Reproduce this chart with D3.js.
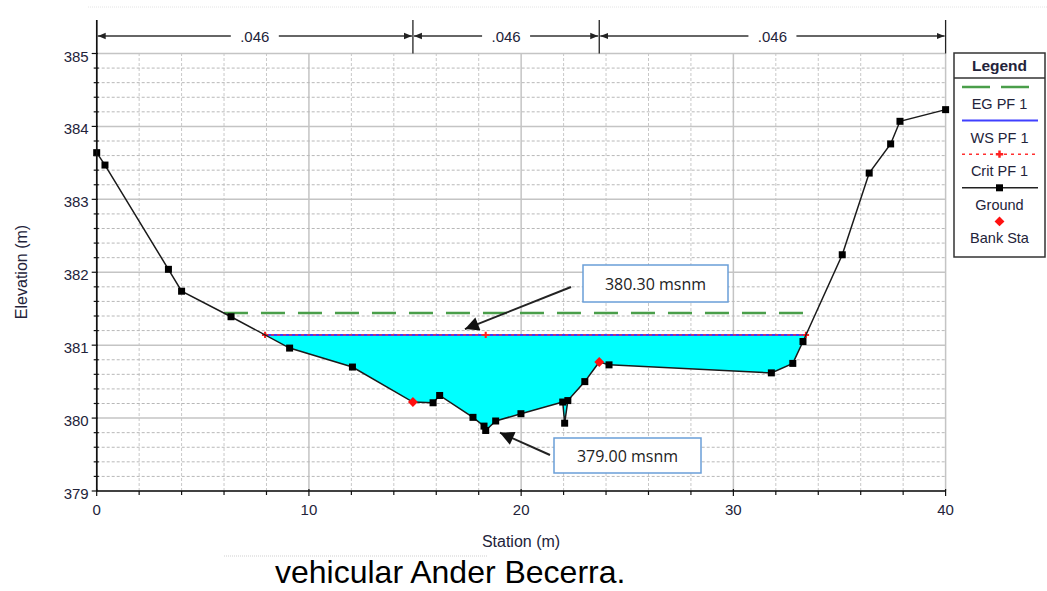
<!DOCTYPE html>
<meta charset="utf-8" />
<style>
  body { margin: 0; background: #fff; }
  svg { display: block; }
  .tick-label { font-family: "Liberation Sans", Arial, sans-serif; font-size: 15px; fill: #23233a; }
  .axis-title { font-family: "Liberation Sans", Arial, sans-serif; font-size: 16px; fill: #23233a; }
  .legend text { font-family: "Liberation Sans", Arial, sans-serif; font-size: 14.5px; fill: #23233a; }
  .note text { font-family: "Open Sans", sans-serif; font-size: 16px; fill: #222; }
</style>
<svg width="1047" height="591"></svg>
<script src="https://cdn.jsdelivr.net/npm/d3@7"></script>
<script>
  // ground profile
  var stations = [0, 0.39, 3.38, 4.0, 6.33, 9.09, 12.05, 14.9, 15.85, 16.16, 17.73, 18.25, 18.33, 18.8,
    19.99, 21.96, 22.05, 22.2, 23.0, 23.68, 24.14, 31.79, 32.8, 33.28, 35.13, 36.4, 37.41, 37.85, 40.0];
  var elevations = [383.64, 383.47, 382.04, 381.74, 381.39, 380.96, 380.7, 380.22, 380.21, 380.31, 380.01,
    379.89, 379.83, 379.96, 380.06, 380.22, 379.93, 380.24, 380.5, 380.77, 380.73, 380.62, 380.75, 381.05,
    382.24, 383.36, 383.76, 384.07, 384.23];
  var bankSta = [14.9, 23.68];
  var nBreaks = [0, 14.9, 23.68, 40];
  var nValues = [".046", ".046", ".046"];
  var wsElev = 381.14, critElev = 381.14, egElev = 381.44;
  var xTicks = [0, 10, 20, 30, 40];
  var yTicks = [379, 380, 381, 382, 383, 384, 385];
  var legendItems = ["EG PF 1", "WS PF 1", "Crit PF 1", "Ground", "Bank Sta"];
  var notes = [
    { text: "380.30 msnm", tip: [17.35, 381.22] },
    { text: "379.00 msnm", tip: [19.0, 379.8] }
  ];

  var svg = d3.select("svg");
  var x = d3.scaleLinear().domain([0, 40]).range([96.7, 945.6]);
  var y = d3.scaleLinear().domain([379, 385]).range([491, 53.5]);

  var ground = stations.map(function(s, i) { return { s: s, e: elevations[i] }; });

  // where a level crosses the ground on each side
  function crossings(level) {
    var out = [];
    for (var i = 0; i < ground.length - 1; i++) {
      var a = ground[i], b = ground[i + 1];
      if ((a.e - level) * (b.e - level) < 0) {
        out.push(a.s + (level - a.e) / (b.e - a.e) * (b.s - a.s));
      }
    }
    return [out[0], out[out.length - 1]];
  }

  var defs = svg.append("defs");
  defs.append("marker").attr("id", "arr").attr("viewBox", "0 0 10 10")
    .attr("refX", 10).attr("refY", 5).attr("markerWidth", 8).attr("markerHeight", 8)
    .attr("markerUnits", "userSpaceOnUse").attr("orient", "auto")
    .append("path").attr("d", "M0,1L10,5L0,9Z").attr("fill", "#222");
  defs.append("marker").attr("id", "arrBig").attr("viewBox", "0 0 10 10")
    .attr("refX", 10).attr("refY", 5).attr("markerWidth", 16).attr("markerHeight", 14)
    .attr("markerUnits", "userSpaceOnUse").attr("orient", "auto")
    .append("path").attr("d", "M0,0L10,5L0,10Z").attr("fill", "#111");

  // faint page lines of the screenshot
  svg.append("line").attr("x1", 88).attr("x2", 1047).attr("y1", 7).attr("y2", 7)
    .attr("stroke", "#e4e4e4").attr("stroke-dasharray", "1,1");
  svg.append("line").attr("x1", 224).attr("x2", 487).attr("y1", 556).attr("y2", 556)
    .attr("stroke", "#cfcfcf").attr("stroke-dasharray", "1,1");

  // grid
  var grid = svg.append("g");
  d3.range(0, 40.001, 2).forEach(function(v) {
    var major = Math.abs(v % 10) < 1e-6;
    grid.append("line").attr("x1", x(v)).attr("x2", x(v)).attr("y1", y(379)).attr("y2", y(385))
      .attr("stroke", major ? "#c4c4c4" : "#c8c8c8").attr("stroke-width", major ? 1.5 : 1)
      .attr("stroke-dasharray", major ? null : "3,2");
  });
  d3.range(0, 31).forEach(function(k) {
    var v = 379 + k * 0.2;
    var major = k % 5 === 0;
    grid.append("line").attr("x1", x(0)).attr("x2", x(40)).attr("y1", y(v)).attr("y2", y(v))
      .attr("stroke", major ? "#c4c4c4" : "#b8b8b8").attr("stroke-width", major ? 1.5 : 1)
      .attr("stroke-dasharray", major ? null : "3,2");
  });

  // manning n bands on top
  var nY = 36;
  nBreaks.forEach(function(b) {
    svg.append("line").attr("x1", x(b)).attr("x2", x(b)).attr("y1", 20).attr("y2", b === 0 ? y(379) : y(385))
      .attr("stroke", "#222").attr("stroke-width", 1.3);
  });
  nValues.forEach(function(v, i) {
    var x0 = x(nBreaks[i]), x1 = x(nBreaks[i + 1]), xm = (x0 + x1) / 2;
    svg.append("line").attr("x1", xm - 24).attr("x2", x0 + 1).attr("y1", nY).attr("y2", nY)
      .attr("stroke", "#333").attr("stroke-width", 1.5).attr("marker-end", "url(#arr)");
    svg.append("line").attr("x1", xm + 24).attr("x2", x1 - 1).attr("y1", nY).attr("y2", nY)
      .attr("stroke", "#333").attr("stroke-width", 1.5).attr("marker-end", "url(#arr)");
    svg.append("text").attr("class", "tick-label").attr("x", xm).attr("y", nY + 6)
      .attr("text-anchor", "middle").text(v);
  });

  // water area
  var wsX = crossings(wsElev);
  var wet = [{ s: wsX[0], e: wsElev }]
    .concat(ground.filter(function(d) { return d.s > wsX[0] && d.s < wsX[1]; }))
    .concat([{ s: wsX[1], e: wsElev }]);
  svg.append("path").datum(wet)
    .attr("d", d3.area().x(function(d) { return x(d.s); }).y0(y(wsElev)).y1(function(d) { return y(d.e); }))
    .attr("fill", "#00ffff");

  // EG line
  var egX = crossings(egElev);
  svg.append("line").attr("x1", x(egX[0])).attr("x2", x(egX[1])).attr("y1", y(egElev)).attr("y2", y(egElev))
    .attr("stroke", "#4a9e4a").attr("stroke-width", 2.5).attr("stroke-dasharray", "24,13");

  // WS and crit
  var thalweg = ground.reduce(function(m, d) { return d.e < m.e ? d : m; });
  svg.append("line").attr("x1", x(wsX[0])).attr("x2", x(wsX[1])).attr("y1", y(wsElev)).attr("y2", y(wsElev))
    .attr("stroke", "#3a3aff").attr("stroke-width", 2);
  svg.append("line").attr("x1", x(wsX[0])).attr("x2", x(wsX[1])).attr("y1", y(critElev)).attr("y2", y(critElev))
    .attr("stroke", "#ff3030").attr("stroke-width", 1.3).attr("stroke-dasharray", "3,3");
  [wsX[0], thalweg.s, wsX[1]].forEach(function(s) {
    svg.append("path").attr("d", d3.symbol(d3.symbolCross, 22)())
      .attr("transform", "translate(" + x(s) + "," + y(critElev) + ")").attr("fill", "#ff2020");
  });

  // ground
  svg.append("path").datum(ground)
    .attr("d", d3.line().x(function(d) { return x(d.s); }).y(function(d) { return y(d.e); }))
    .attr("fill", "none").attr("stroke", "#1a1a1a").attr("stroke-width", 1.5);
  svg.selectAll(".gpt").data(ground.filter(function(d) { return bankSta.indexOf(d.s) < 0; }))
    .enter().append("rect").attr("class", "gpt")
    .attr("x", function(d) { return x(d.s) - 3.5; }).attr("y", function(d) { return y(d.e) - 3.5; })
    .attr("width", 7).attr("height", 7).attr("fill", "#000");
  svg.selectAll(".bank").data(ground.filter(function(d) { return bankSta.indexOf(d.s) >= 0; }))
    .enter().append("rect").attr("class", "bank")
    .attr("x", -3.5).attr("y", -3.5).attr("width", 7).attr("height", 7)
    .attr("transform", function(d) { return "translate(" + x(d.s) + "," + y(d.e) + ") rotate(45)"; })
    .attr("fill", "#ff1010");

  // axes
  var ax = svg.append("g").attr("stroke", "#111");
  ax.append("line").attr("x1", x(0)).attr("x2", x(40)).attr("y1", y(379)).attr("y2", y(379)).attr("stroke-width", 1.5);
  ax.append("line").attr("x1", x(0)).attr("x2", x(0)).attr("y1", 20).attr("y2", y(379)).attr("stroke-width", 1.5);
  d3.range(0, 31).forEach(function(k) {
    var v = 379 + k * 0.2, major = k % 5 === 0;
    ax.append("line").attr("x1", x(0) - (major ? 5 : 3)).attr("x2", x(0) + (major ? 1 : 2))
      .attr("y1", y(v)).attr("y2", y(v)).attr("stroke-width", 1.2);
  });
  d3.range(0, 40.001, 2).forEach(function(v) {
    var major = Math.abs(v % 10) < 1e-6;
    ax.append("line").attr("x1", x(v)).attr("x2", x(v))
      .attr("y1", y(379) - (major ? 2 : 0)).attr("y2", y(379) + (major ? 5 : 4)).attr("stroke-width", 1.2);
  });
  yTicks.forEach(function(v) {
    svg.append("text").attr("class", "tick-label").attr("x", x(0) - 8).attr("y", y(v) + 8)
      .attr("text-anchor", "end").text(v);
  });
  xTicks.forEach(function(v) {
    svg.append("text").attr("class", "tick-label").attr("x", x(v)).attr("y", y(379) + 24)
      .attr("text-anchor", "middle").text(v);
  });
  svg.append("text").attr("class", "axis-title").attr("x", 521).attr("y", 547)
    .attr("text-anchor", "middle").text("Station (m)");
  svg.append("text").attr("class", "axis-title")
    .attr("transform", "translate(27," + 272 + ") rotate(-90)")
    .attr("text-anchor", "middle").text("Elevation (m)");

  // legend
  var lg = svg.append("g").attr("class", "legend").attr("transform", "translate(954,53)");
  var lw = 91;
  lg.append("rect").attr("width", lw).attr("height", 204).attr("fill", "#fff")
    .attr("stroke", "#333").attr("stroke-width", 1.5);
  lg.append("line").attr("x1", 0).attr("x2", lw).attr("y1", 25).attr("y2", 25).attr("stroke", "#333").attr("stroke-width", 1.5);
  lg.append("text").attr("x", lw / 2).attr("y", 18).attr("text-anchor", "middle")
    .style("font-weight", "bold").style("font-size", "15.5px").text("Legend");
  legendItems.forEach(function(name, i) {
    var ly = 34 + i * 33.6, cx = lw / 2;
    if (i === 0) {
      lg.append("line").attr("x1", 8).attr("x2", 75).attr("y1", ly).attr("y2", ly)
        .attr("stroke", "#4a9e4a").attr("stroke-width", 2.5).attr("stroke-dasharray", "28,11");
    } else if (i === 1) {
      lg.append("line").attr("x1", 8).attr("x2", 84).attr("y1", ly).attr("y2", ly)
        .attr("stroke", "#4040ff").attr("stroke-width", 2);
    } else if (i === 2) {
      lg.append("line").attr("x1", 8).attr("x2", 84).attr("y1", ly).attr("y2", ly)
        .attr("stroke", "#ff3030").attr("stroke-width", 1.5).attr("stroke-dasharray", "3,4");
      lg.append("path").attr("d", d3.symbol(d3.symbolCross, 30)()).attr("transform", "translate(" + cx + "," + ly + ")").attr("fill", "#ff2020");
    } else if (i === 3) {
      lg.append("line").attr("x1", 8).attr("x2", 84).attr("y1", ly).attr("y2", ly)
        .attr("stroke", "#222").attr("stroke-width", 1.5);
      lg.append("rect").attr("x", cx - 3.5).attr("y", ly - 3.5).attr("width", 7).attr("height", 7).attr("fill", "#000");
    } else {
      lg.append("rect").attr("x", -3.5).attr("y", -3.5).attr("width", 7).attr("height", 7)
        .attr("transform", "translate(" + cx + "," + ly + ") rotate(45)").attr("fill", "#ff1010");
    }
    lg.append("text").attr("x", cx).attr("y", ly + 22).attr("text-anchor", "middle").text(name);
  });

  // callouts
  var boxes = [[583, 265, 145, 37], [554, 438, 147, 35]];
  var tails = [[571, 287], [550, 455]];
  notes.forEach(function(n, i) {
    var b = boxes[i], g = svg.append("g").attr("class", "note");
    g.append("line").attr("x1", tails[i][0]).attr("y1", tails[i][1])
      .attr("x2", x(n.tip[0])).attr("y2", y(n.tip[1]))
      .attr("stroke", "#222").attr("stroke-width", 2).attr("marker-end", "url(#arrBig)");
    g.append("rect").attr("x", b[0]).attr("y", b[1]).attr("width", b[2]).attr("height", b[3])
      .attr("fill", "#fff").attr("stroke", "#6a9ed8").attr("stroke-width", 1.5);
    g.append("text").attr("x", b[0] + b[2] / 2).attr("y", b[1] + b[3] / 2 + 6)
      .attr("text-anchor", "middle").text(n.text);
  });

  svg.append("text").attr("x", 275).attr("y", 583)
    .style("font-family", "'Liberation Sans', Arial, sans-serif").style("font-size", "32px").attr("fill", "#000")
    .text("vehicular Ander Becerra.");
</script>
